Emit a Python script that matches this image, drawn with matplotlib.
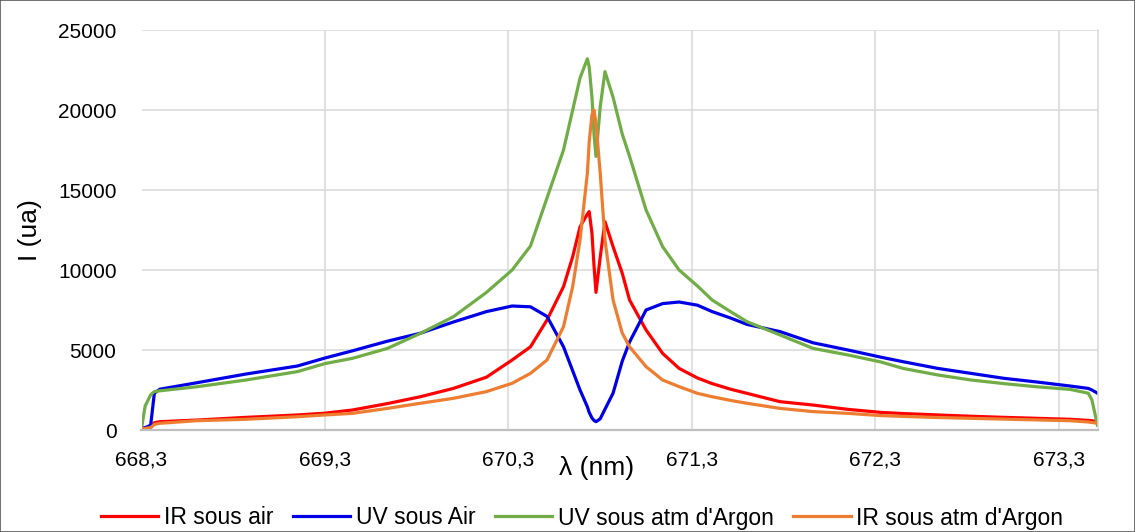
import matplotlib
matplotlib.use("Agg")
import matplotlib.pyplot as plt
from matplotlib.patches import Rectangle
from matplotlib.ticker import FixedLocator, FuncFormatter

# Wavelength grid (nm)
wavelength = [668.30, 668.32, 668.35, 668.37, 668.40, 668.60, 668.87, 669.15, 669.30,
              669.45, 669.64, 669.82, 670.00, 670.18, 670.32, 670.42, 670.51, 670.60,
              670.65, 670.69, 670.73, 670.74, 670.755, 670.766, 670.777, 670.80, 670.826,
              670.87, 670.92, 670.96, 671.05, 671.14, 671.23, 671.33, 671.41, 671.51,
              671.60, 671.78, 671.96, 672.15, 672.33, 672.45, 672.64, 672.82, 673.00,
              673.18, 673.36, 673.46, 673.48, 673.51]

ir_air = [100, 100, 150, 450, 520, 620, 790, 940, 1050,
          1250, 1650, 2080, 2600, 3300, 4375, 5200, 6875, 8960,
          10830, 12700, 13500, 13650, 12300, 10300, 8600, 10800, 13020,
          11460, 9800, 8125, 6250, 4790, 3850, 3250, 2900, 2550,
          2290, 1770, 1560, 1290, 1100, 1030, 940, 860, 790,
          730, 670, 600, 580, 520]

uv_air = [150, 150, 300, 2300, 2550, 2950, 3500, 4000, 4500,
          4950, 5550, 6050, 6750, 7400, 7750, 7700, 7100, 5200,
          3700, 2500, 1450, 1100, 750, 600, 520, 700, 1300,
          2300, 4300, 5500, 7500, 7900, 8000, 7800, 7400, 7000,
          6600, 6150, 5450, 5000, 4550, 4270, 3850, 3540, 3230,
          3000, 2750, 2600, 2500, 2300]

uv_argon = [100, 1500, 2200, 2400, 2450, 2700, 3125, 3650, 4150,
            4480, 5100, 6040, 7080, 8600, 10000, 11500, 14500, 17500,
            20000, 22000, 23200, 22700, 20800, 18500, 17100, 20200, 22400,
            20800, 18500, 17100, 13750, 11460, 10000, 9000, 8125, 7400,
            6770, 5940, 5100, 4690, 4250, 3850, 3440, 3125, 2900,
            2700, 2540, 2300, 1875, 300]

ir_argon = [100, 100, 150, 350, 420, 580, 670, 830, 940,
            1040, 1350, 1670, 1980, 2400, 2920, 3540, 4375, 6460,
            8960, 11875, 16040, 18000, 19700, 20000, 19170, 16060, 11875,
            8125, 6060, 5200, 3960, 3125, 2710, 2290, 2080, 1850,
            1670, 1350, 1150, 1040, 900, 850, 780, 730, 680,
            630, 580, 500, 470, 420]

series_names = ["IR sous air", "UV sous Air", "UV sous atm d'Argon", "IR sous atm d'Argon"]
series_colors = ["#FF0000", "#0000E6", "#70AD47", "#ED7D31"]
x_ticks = [668.3, 669.3, 670.3, 671.3, 672.3, 673.3]
y_ticks = [0, 5000, 10000, 15000, 20000, 25000]

plt.rcParams['font.family'] = ['Liberation Sans', 'DejaVu Sans']

W, H = 1135, 532
fig = plt.figure(figsize=(W / 100, H / 100), dpi=100)
ax = fig.add_axes([141.5 / W, 1 - 430 / H, (1098 - 141.5) / W, 400 / H])

for vals, name, col in zip([ir_air, uv_air, uv_argon, ir_argon], series_names, series_colors):
    ax.plot(wavelength, vals, color=col, lw=2.3, label=name, solid_joinstyle='round')

ax.set_xlim(668.3, 673.513)
ax.set_ylim(0, 25000)
ax.xaxis.set_major_locator(FixedLocator(x_ticks))
ax.yaxis.set_major_locator(FixedLocator(y_ticks))
ax.xaxis.set_major_formatter(FuncFormatter(lambda v, p: f"{v:.1f}".replace('.', ',')))
ax.yaxis.set_major_formatter(FuncFormatter(lambda v, p: f"{int(round(v))}"))
ax.grid(True, color="#D9D9D9", lw=1.1)
ax.set_axisbelow(True)
for s in ['top', 'left']:
    ax.spines[s].set_visible(False)
ax.spines['right'].set_color("#D9D9D9")
ax.spines['right'].set_linewidth(1.1)
ax.spines['bottom'].set_color("#BFBFBF")
ax.spines['bottom'].set_linewidth(1.6)
ax.tick_params(axis='both', length=0, labelsize=15, colors='black')
ax.tick_params(axis='x', pad=15)
ax.tick_params(axis='y', pad=18)

fig.text(597 / W, 1 - 468 / H, "λ (nm)", fontsize=19, ha='center', va='center')
fig.text(30 / W, 1 - 230 / H, "I (ua)", fontsize=19, ha='center', va='center', rotation=90)

fig.legend(loc='center', bbox_to_anchor=(582 / W, 1 - 518 / H), ncol=4, frameon=False,
           fontsize=16.5, handlelength=2.5, handletextpad=0.25, columnspacing=0.85)

fig.patches.append(Rectangle((0, 0), 1, 1, transform=fig.transFigure, fill=False,
                             edgecolor="#595959", lw=1.2))

fig.savefig("out.png", dpi=100)
